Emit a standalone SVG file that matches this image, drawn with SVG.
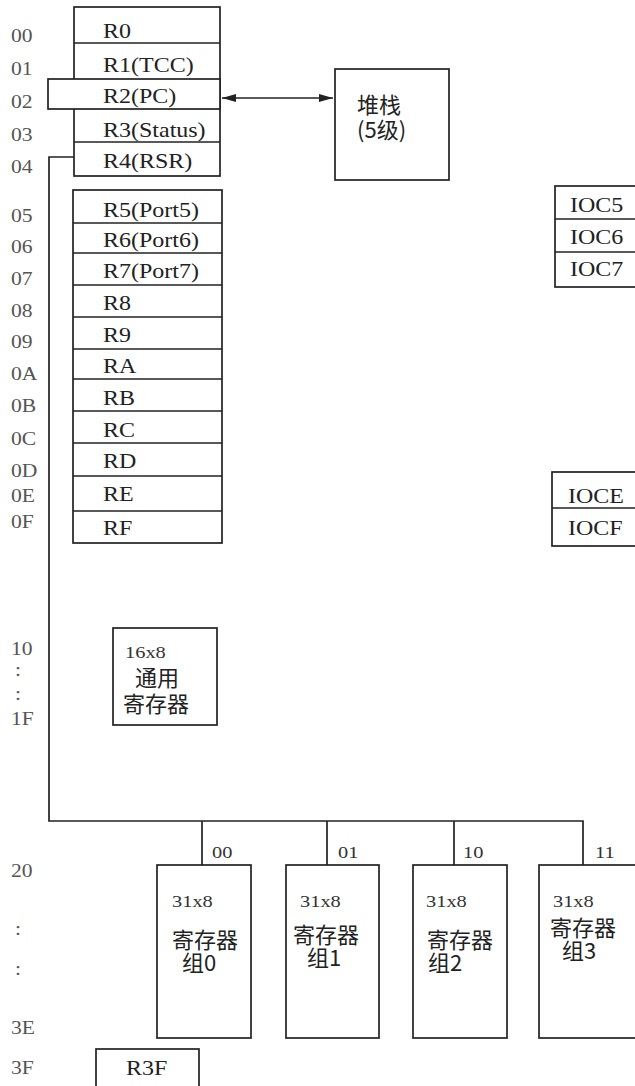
<svg xmlns="http://www.w3.org/2000/svg" width="635" height="1086" viewBox="0 0 635 1086">
<style>
.b{fill:#fff;stroke:#222;stroke-width:1.7}
.l{fill:none;stroke:#222;stroke-width:1.7}
.r,.a,.s{font-family:"Liberation Serif","Times New Roman","DejaVu Serif",serif;transform-box:fill-box;transform-origin:0 50%;transform:scaleX(1.2)}
.r{font-size:20px;fill:#222}
.a{font-size:18px;fill:#555}
.s{font-size:17px;fill:#333}
.c{font-family:"Noto Sans CJK SC","Liberation Sans",sans-serif;font-size:22px;fill:#222}
</style>
<defs>
<marker id="ah" viewBox="0 0 14 10" refX="14" refY="5" markerWidth="14" markerHeight="10" orient="auto-start-reverse" markerUnits="userSpaceOnUse"><path d="M0,1 L14,5 L0,9 z" fill="#222"/></marker>
</defs>
<g id="addr">
<text class="a" x="11" y="42">00</text>
<text class="a" x="11" y="75">01</text>
<text class="a" x="11" y="108">02</text>
<text class="a" x="11" y="141">03</text>
<text class="a" x="11" y="173">04</text>
<text class="a" x="11" y="222">05</text>
<text class="a" x="11" y="253">06</text>
<text class="a" x="11" y="285">07</text>
<text class="a" x="11" y="317">08</text>
<text class="a" x="11" y="348">09</text>
<text class="a" x="11" y="380">0A</text>
<text class="a" x="11" y="412">0B</text>
<text class="a" x="11" y="445">0C</text>
<text class="a" x="11" y="477">0D</text>
<text class="a" x="11" y="502">0E</text>
<text class="a" x="11" y="528">0F</text>
<text class="a" x="11" y="655">10</text>
<text class="a" x="15" y="676">:</text>
<text class="a" x="15" y="700">:</text>
<text class="a" x="11" y="725">1F</text>
<text class="a" x="11" y="877">20</text>
<text class="a" x="15" y="935">:</text>
<text class="a" x="15" y="975">:</text>
<text class="a" x="11" y="1034">3E</text>
<text class="a" x="11" y="1074">3F</text>
</g>
<g id="connectors">
<polyline class="l" points="74,157 49,157 49,821 583,821 583,865"/>
<line class="l" x1="202" y1="821" x2="202" y2="865"/>
<line class="l" x1="327" y1="821" x2="327" y2="865"/>
<line class="l" x1="454" y1="821" x2="454" y2="865"/>
<line class="l" x1="222" y1="98" x2="333" y2="98" marker-start="url(#ah)" marker-end="url(#ah)"/>
</g>
<g id="regs0">
<rect class="b" x="74" y="7" width="146" height="169"/>
<line class="l" x1="74" y1="43" x2="220" y2="43"/>
<line class="l" x1="74" y1="142" x2="220" y2="142"/>
<rect class="b" x="48" y="79" width="172" height="30"/>
<text class="r" x="103" y="38">R0</text>
<text class="r" x="103" y="72">R1(TCC)</text>
<text class="r" x="103" y="103">R2(PC)</text>
<text class="r" x="103" y="137">R3(Status)</text>
<text class="r" x="103" y="168">R4(RSR)</text>
</g>
<g id="stack">
<rect class="b" x="335" y="69" width="114" height="111"/>
<text class="c" x="357" y="113">堆栈</text>
<text class="c" x="357" y="138">(5级)</text>
</g>
<g id="regs1">
<rect class="b" x="73" y="190" width="149" height="353"/>
<line class="l" x1="73" y1="223" x2="222" y2="223"/>
<line class="l" x1="73" y1="253" x2="222" y2="253"/>
<line class="l" x1="73" y1="285" x2="222" y2="285"/>
<line class="l" x1="73" y1="317" x2="222" y2="317"/>
<line class="l" x1="73" y1="349" x2="222" y2="349"/>
<line class="l" x1="73" y1="379" x2="222" y2="379"/>
<line class="l" x1="73" y1="411" x2="222" y2="411"/>
<line class="l" x1="73" y1="443" x2="222" y2="443"/>
<line class="l" x1="73" y1="476" x2="222" y2="476"/>
<line class="l" x1="73" y1="511" x2="222" y2="511"/>
<text class="r" x="103" y="217">R5(Port5)</text>
<text class="r" x="103" y="247">R6(Port6)</text>
<text class="r" x="103" y="278">R7(Port7)</text>
<text class="r" x="103" y="310">R8</text>
<text class="r" x="103" y="342">R9</text>
<text class="r" x="103" y="373">RA</text>
<text class="r" x="103" y="405">RB</text>
<text class="r" x="103" y="437">RC</text>
<text class="r" x="103" y="468">RD</text>
<text class="r" x="103" y="501">RE</text>
<text class="r" x="103" y="535">RF</text>
</g>
<g id="ioc1">
<rect class="b" x="555" y="186" width="84" height="101"/>
<line class="l" x1="555" y1="219" x2="635" y2="219"/>
<line class="l" x1="555" y1="252" x2="635" y2="252"/>
<text class="r" x="570" y="212">IOC5</text>
<text class="r" x="570" y="244">IOC6</text>
<text class="r" x="570" y="276">IOC7</text>
</g>
<g id="ioc2">
<rect class="b" x="552" y="472" width="87" height="74"/>
<line class="l" x1="552" y1="508" x2="635" y2="508"/>
<text class="r" x="568" y="503">IOCE</text>
<text class="r" x="568" y="535">IOCF</text>
</g>
<g id="gpr">
<rect class="b" x="113" y="628" width="104" height="97"/>
<text class="s" x="125" y="658">16x8</text>
<text class="c" x="135" y="686">通用</text>
<text class="c" x="123" y="712">寄存器</text>
</g>
<g id="bank0">
<rect class="b" x="157" y="865" width="94" height="173"/>
<text class="s" x="212" y="858">00</text>
<text class="s" x="172" y="907">31x8</text>
<text class="c" x="172" y="948">寄存器</text>
<text class="c" x="182" y="971">组0</text>
</g>
<g id="bank1">
<rect class="b" x="286" y="865" width="93" height="173"/>
<text class="s" x="338" y="858">01</text>
<text class="s" x="300" y="907">31x8</text>
<text class="c" x="293" y="943">寄存器</text>
<text class="c" x="307" y="966">组1</text>
</g>
<g id="bank2">
<rect class="b" x="413" y="865" width="94" height="173"/>
<text class="s" x="463" y="858">10</text>
<text class="s" x="426" y="907">31x8</text>
<text class="c" x="427" y="948">寄存器</text>
<text class="c" x="428" y="971">组2</text>
</g>
<g id="bank3">
<rect class="b" x="539" y="865" width="100" height="173"/>
<text class="s" x="595" y="858">11</text>
<text class="s" x="553" y="907">31x8</text>
<text class="c" x="550" y="936">寄存器</text>
<text class="c" x="562" y="959">组3</text>
</g>
<g id="r3f">
<rect class="b" x="96" y="1049" width="103" height="45"/>
<text class="r" x="126" y="1075">R3F</text>
</g>
</svg>
